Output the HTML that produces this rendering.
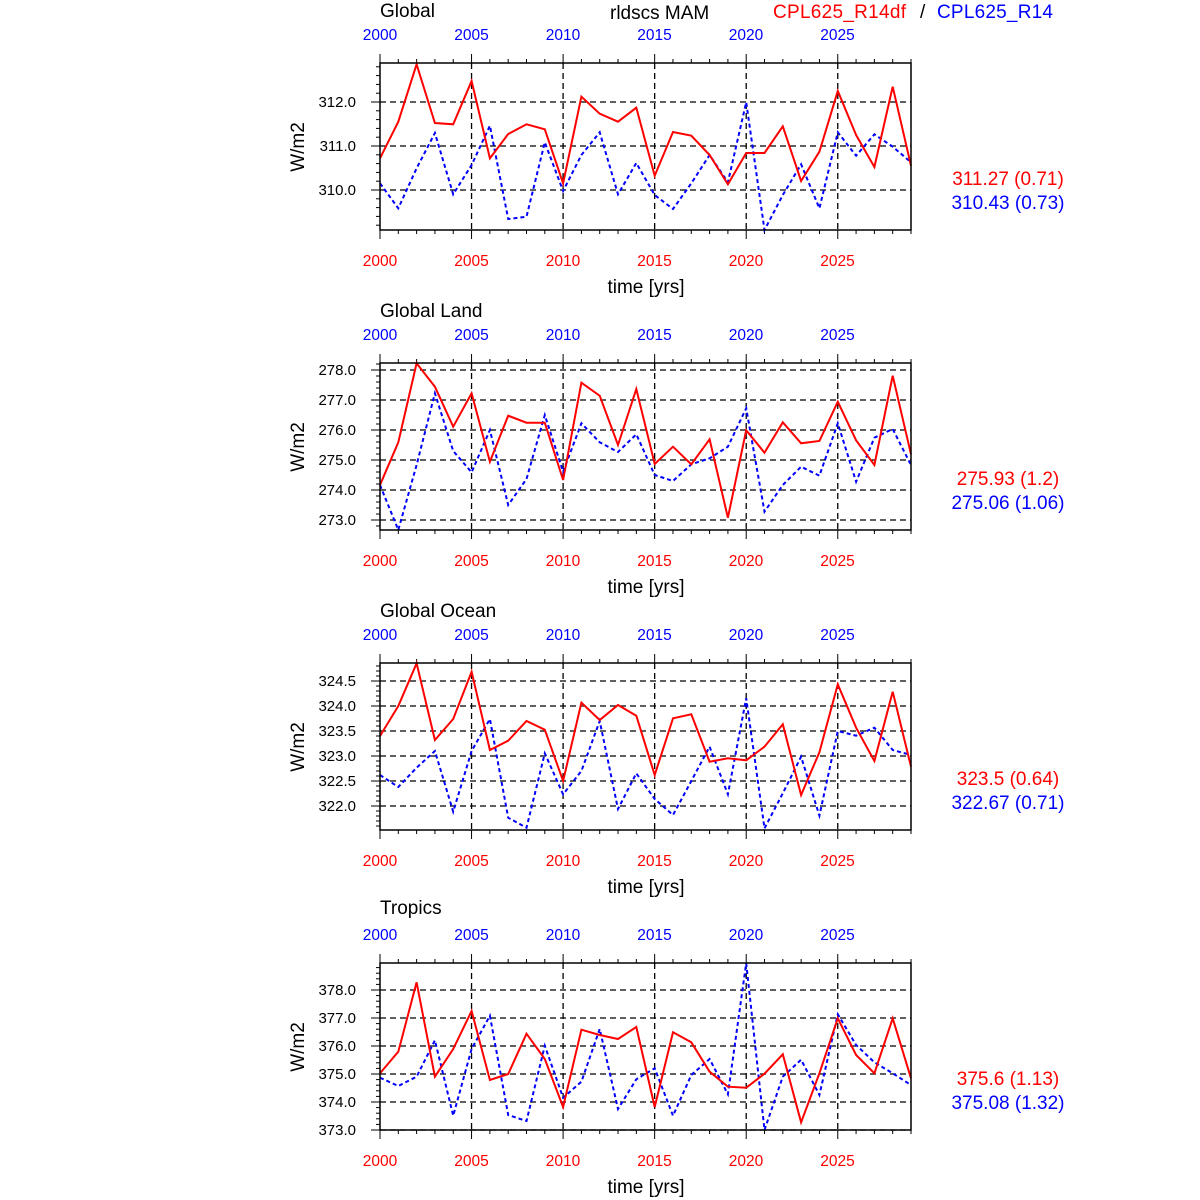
<!DOCTYPE html>
<html><head><meta charset="utf-8"><style>
html,body{margin:0;padding:0;background:#fff;}
svg{display:block;font-family:"Liberation Sans",sans-serif;}
</style></head><body>
<svg id="s" width="1200" height="1200" viewBox="0 0 1200 1200" xmlns="http://www.w3.org/2000/svg">
<g font-size="19">
<text x="380" y="17">Global</text>
<text x="610" y="19">rldscs MAM</text>
<text x="773" y="18" fill="#f00" textLength="133">CPL625_R14df</text>
<text x="920" y="18">/</text>
<text x="937" y="18" fill="#00f" textLength="116">CPL625_R14</text>
<text x="380" y="317">Global Land</text>
<text x="380" y="617">Global Ocean</text>
<text x="380" y="914">Tropics</text>
<text x="646" y="293" text-anchor="middle">time [yrs]</text>
<text x="646" y="593" text-anchor="middle">time [yrs]</text>
<text x="646" y="893" text-anchor="middle">time [yrs]</text>
<text x="646" y="1193" text-anchor="middle">time [yrs]</text>
<text transform="translate(304,147) rotate(-90)" text-anchor="middle">W/m2</text>
<text transform="translate(304,447) rotate(-90)" text-anchor="middle">W/m2</text>
<text transform="translate(304,747) rotate(-90)" text-anchor="middle">W/m2</text>
<text transform="translate(304,1047) rotate(-90)" text-anchor="middle">W/m2</text>
<text x="1008" y="185" text-anchor="middle" fill="#f00">311.27 (0.71)</text>
<text x="1008" y="209" text-anchor="middle" fill="#00f">310.43 (0.73)</text>
<text x="1008" y="485" text-anchor="middle" fill="#f00">275.93 (1.2)</text>
<text x="1008" y="509" text-anchor="middle" fill="#00f">275.06 (1.06)</text>
<text x="1008" y="785" text-anchor="middle" fill="#f00">323.5 (0.64)</text>
<text x="1008" y="809" text-anchor="middle" fill="#00f">322.67 (0.71)</text>
<text x="1008" y="1085" text-anchor="middle" fill="#f00">375.6 (1.13)</text>
<text x="1008" y="1109" text-anchor="middle" fill="#00f">375.08 (1.32)</text>
</g>
<g font-size="15.5" text-anchor="middle" fill="#00f">
<text x="380" y="40">2000</text><text x="471.5" y="40">2005</text><text x="563" y="40">2010</text><text x="654.5" y="40">2015</text><text x="746" y="40">2020</text><text x="837.5" y="40">2025</text>
<text x="380" y="340">2000</text><text x="471.5" y="340">2005</text><text x="563" y="340">2010</text><text x="654.5" y="340">2015</text><text x="746" y="340">2020</text><text x="837.5" y="340">2025</text>
<text x="380" y="640">2000</text><text x="471.5" y="640">2005</text><text x="563" y="640">2010</text><text x="654.5" y="640">2015</text><text x="746" y="640">2020</text><text x="837.5" y="640">2025</text>
<text x="380" y="940">2000</text><text x="471.5" y="940">2005</text><text x="563" y="940">2010</text><text x="654.5" y="940">2015</text><text x="746" y="940">2020</text><text x="837.5" y="940">2025</text>
</g>
<g font-size="15.5" text-anchor="middle" fill="#f00">
<text x="380" y="266">2000</text><text x="471.5" y="266">2005</text><text x="563" y="266">2010</text><text x="654.5" y="266">2015</text><text x="746" y="266">2020</text><text x="837.5" y="266">2025</text>
<text x="380" y="566">2000</text><text x="471.5" y="566">2005</text><text x="563" y="566">2010</text><text x="654.5" y="566">2015</text><text x="746" y="566">2020</text><text x="837.5" y="566">2025</text>
<text x="380" y="866">2000</text><text x="471.5" y="866">2005</text><text x="563" y="866">2010</text><text x="654.5" y="866">2015</text><text x="746" y="866">2020</text><text x="837.5" y="866">2025</text>
<text x="380" y="1166">2000</text><text x="471.5" y="1166">2005</text><text x="563" y="1166">2010</text><text x="654.5" y="1166">2015</text><text x="746" y="1166">2020</text><text x="837.5" y="1166">2025</text>
</g>
<g font-size="15" text-anchor="end">
<text x="356" y="107">312.0</text><text x="356" y="151">311.0</text><text x="356" y="195">310.0</text>
<text x="356" y="375">278.0</text><text x="356" y="405">277.0</text><text x="356" y="435">276.0</text><text x="356" y="465">275.0</text><text x="356" y="495">274.0</text><text x="356" y="525">273.0</text>
<text x="356" y="686">324.5</text><text x="356" y="711">324.0</text><text x="356" y="736">323.5</text><text x="356" y="761">323.0</text><text x="356" y="786">322.5</text><text x="356" y="811">322.0</text>
<text x="356" y="995">378.0</text><text x="356" y="1023">377.0</text><text x="356" y="1051">376.0</text><text x="356" y="1079">375.0</text><text x="356" y="1107">374.0</text><text x="356" y="1135">373.0</text>
</g>
<g id="g"></g>
</svg>
<script>
var NS="http://www.w3.org/2000/svg",G=document.getElementById("g");
function el(t,a){var e=document.createElementNS(NS,t);for(var k in a)e.setAttribute(k,a[k]);G.appendChild(e);return e;}
var P=[
{top:63,bot:230,off:55,grid:[102,146,190],
r:[310,200,28,204,208,78,310,237,208,223,385,125,176,200,158,362,231,242,300,388,294,294,214,378,290,108,240,336,95,332],
b:[385,460,340,234,418,330,212,492,485,262,408,300,232,418,324,420,462,385,300,382,142,525,420,328,460,232,302,238,275,322]},
{top:363,bot:530,off:355,grid:[370,400,430,460,490,520],
r:[390,262,25,95,215,115,320,182,203,203,375,83,122,270,102,327,275,328,253,488,226,293,202,265,258,140,256,330,62,298],
b:[390,525,330,115,288,352,225,450,372,180,350,205,262,291,238,360,378,328,310,275,160,470,390,335,362,205,380,248,222,330]},
{top:663,bot:830,off:655,grid:[681,706,731,756,781,806],
r:[243,153,25,255,192,50,285,257,198,224,378,143,195,150,182,360,190,178,320,310,316,275,208,420,292,88,218,318,110,335],
b:[360,396,338,288,470,288,192,488,518,295,418,348,198,462,355,432,480,378,275,418,130,520,415,305,482,228,242,218,285,300]},
{top:963,bot:1130,off:955,grid:[990,1018,1046,1074,1102,1130],
r:[355,290,82,365,282,168,375,357,236,312,456,224,240,252,216,456,232,262,350,395,398,356,298,502,355,190,300,355,190,370],
b:[368,393,365,256,482,282,182,480,498,272,428,380,222,462,373,340,482,360,312,418,25,525,365,314,420,178,270,322,355,390]}];
var X0=380,X1=911,dx=(X1-X0)/29;
P.forEach(function(p){
 p.grid.forEach(function(y){el("line",{x1:X0,x2:X1,y1:y,y2:y,stroke:"#000","stroke-width":1.3,"stroke-dasharray":"6,4"});});
 for(var i=5;i<29;i+=5){var x=X0+i*dx;el("line",{x1:x,x2:x,y1:p.top,y2:p.bot,stroke:"#000","stroke-width":1.3,"stroke-dasharray":"6,4"});}
 for(var i=0;i<=29;i++){var x=X0+i*dx,L=(i%5==0)?9:4;
  el("line",{x1:x,x2:x,y1:p.top,y2:p.top-L,stroke:"#000","stroke-width":1});
  el("line",{x1:x,x2:x,y1:p.bot,y2:p.bot+L,stroke:"#000","stroke-width":1});}
 var g0=p.grid[0],st=p.grid[1]-p.grid[0],m=st/5;
 for(var y=g0-10*m;y<=p.bot+0.5;y+=m){if(y<p.top-0.5)continue;var k=Math.round((y-g0)/m),L=(k%5==0)?9:4;
  el("line",{x1:X0,x2:X0-L,y1:y,y2:y,stroke:"#000","stroke-width":1});}
 function pts(a){return a.map(function(v,i){return (X0+i*dx).toFixed(1)+","+(p.off+v/3).toFixed(1);}).join(" ");}
 el("polyline",{points:pts(p.b),fill:"none",stroke:"#00f","stroke-width":2,"stroke-dasharray":"4,3"});
 el("polyline",{points:pts(p.r),fill:"none",stroke:"#f00","stroke-width":2});
 el("rect",{x:X0,y:p.top,width:X1-X0,height:p.bot-p.top,fill:"none",stroke:"#000","stroke-width":1.5});
});
</script>
</body></html>
